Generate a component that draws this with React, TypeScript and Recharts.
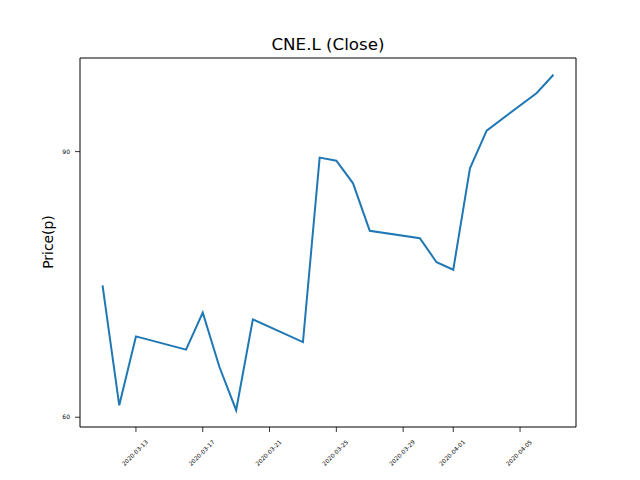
import React from "react";
import { LineChart, Line, XAxis, YAxis, ReferenceArea } from "recharts";

// CNE.L daily close
const dates = [
  "2020-03-11", "2020-03-12", "2020-03-13", "2020-03-16", "2020-03-17",
  "2020-03-18", "2020-03-19", "2020-03-20", "2020-03-23", "2020-03-24",
  "2020-03-25", "2020-03-26", "2020-03-27", "2020-03-30", "2020-03-31",
  "2020-04-01", "2020-04-02", "2020-04-03", "2020-04-06", "2020-04-07",
];
const closes = [
  74.9, 61.35, 69.13, 67.63, 71.81,
  65.67, 60.79, 71.05, 68.49, 89.32,
  88.98, 86.42, 81.06, 80.22, 77.51,
  76.66, 88.12, 92.37, 96.62, 98.68,
];
const tickDates = [
  "2020-03-13", "2020-03-17", "2020-03-21", "2020-03-25",
  "2020-03-29", "2020-04-01", "2020-04-05",
];
const yTicks = [60, 90];

const DAY = 864e5;
const t0 = Date.parse(dates[0]);
const dayOf = (d: string) => Math.round((Date.parse(d) - t0) / DAY);

const data = dates.map((d, i) => ({ day: dayOf(d), close: closes[i] }));
const xTicks = tickDates.map(dayOf);
const labelOf: Record<number, string> = {};
tickDates.forEach((d) => (labelOf[dayOf(d)] = d));

// matplotlib style 5% margins
const xMin = data[0].day, xMax = data[data.length - 1].day;
const xPad = (xMax - xMin) * 0.05;
const yMin = Math.min(...closes), yMax = Math.max(...closes);
const yPad = (yMax - yMin) * 0.05;
const xDomain: [number, number] = [xMin - xPad, xMax + xPad];
const yDomain: [number, number] = [yMin - yPad, yMax + yPad];

const FONT = "DejaVu Sans";

function XTick(props: any) {
  const { x, y, payload } = props;
  const cy = y + 16;
  return (
    <text
      x={x - 1}
      y={cy}
      fontSize={5.8}
      fontFamily={FONT}
      fill="#000"
      textAnchor="middle"
      dominantBaseline="central"
      transform={`rotate(-45 ${x - 1} ${cy})`}
    >
      {labelOf[payload.value]}
    </text>
  );
}

export default function App() {
  return (
    <div style={{ position: "absolute", left: 0, top: 0, width: 640, height: 480, background: "#fff" }}>
      <LineChart
        width={640}
        height={480}
        data={data}
        margin={{ top: 58, right: 64, bottom: 13, left: 20 }}
      >
        <XAxis
          dataKey="day"
          type="number"
          domain={xDomain}
          ticks={xTicks}
          height={40}
          axisLine={false}
          tickLine={{ stroke: "#000", strokeWidth: 0.8 }}
          tickSize={5}
          tickMargin={5}
          tick={<XTick />}
          interval={0}
          allowDataOverflow
        />
        <YAxis
          type="number"
          domain={yDomain}
          ticks={yTicks}
          width={60}
          axisLine={false}
          tickLine={{ stroke: "#000", strokeWidth: 0.8 }}
          tickSize={5}
          tickMargin={5}
          tick={{ fontSize: 6, fontFamily: FONT, fill: "#000" }}
          interval={0}
          allowDataOverflow
        />
        <ReferenceArea
          x1={xDomain[0]}
          x2={xDomain[1]}
          y1={yDomain[0]}
          y2={yDomain[1]}
          fill="none"
          fillOpacity={0}
          stroke="#000"
          strokeWidth={1}
        />
        <Line
          type="linear"
          dataKey="close"
          stroke="#1f77b4"
          strokeWidth={2}
          dot={false}
          isAnimationActive={false}
        />
      </LineChart>
      <svg
        width={640}
        height={480}
        style={{ position: "absolute", left: 0, top: 0, pointerEvents: "none" }}
      >
        <text x={328} y={50} fontSize={16.7} fontFamily={FONT} textAnchor="middle" fill="#000">
          CNE.L (Close)
        </text>
        <text
          x={48}
          y={242}
          fontSize={13.9}
          fontFamily={FONT}
          textAnchor="middle"
          dominantBaseline="central"
          fill="#000"
          transform="rotate(-90 48 242)"
        >
          Price(p)
        </text>
      </svg>
    </div>
  );
}
